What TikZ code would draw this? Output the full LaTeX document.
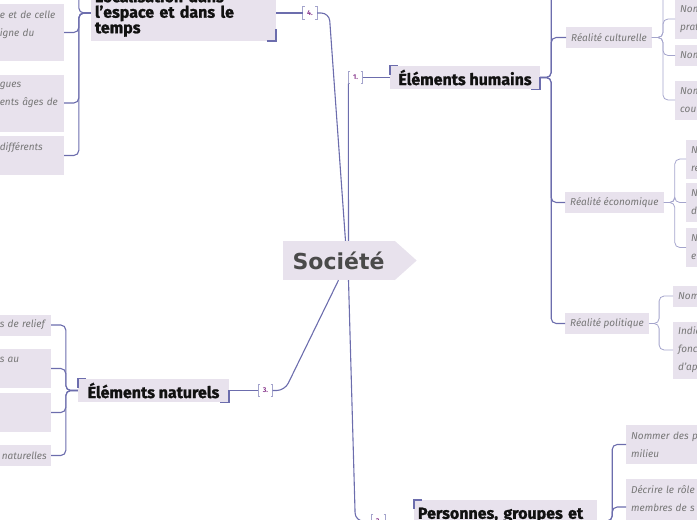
\documentclass[tikz,border=0pt]{standalone}
\usepackage{fontspec}
\setmainfont{Fira Sans}
\newfontfamily\hubfont{DejaVu Sans}
\newfontfamily\topicfont{Fira Sans}[BoldFeatures={FakeBold=1.2}]
\usetikzlibrary{
  calc,
  positioning
}
\hyphenpenalty=10000
\exhyphenpenalty=10000
\definecolor{ink}{HTML}{111111}
\definecolor{paper}{HTML}{E8E2ED}
\definecolor{trunk}{HTML}{6C6DAD}
\definecolor{twig}{HTML}{A4A4CC}
\definecolor{note}{HTML}{777777}
\definecolor{plum}{HTML}{8B3D8F}
\definecolor{hubink}{HTML}{4A4A4A}
\newcommand{\cornermarks}[1]{%
  \draw[cornerline] ([yshift=-9pt]#1.north west) -- (#1.north west) --
    ([xshift=8pt]#1.north west);
  \draw[cornerline] ([yshift=12pt]#1.south east) -- (#1.south east) --
    ([xshift=-9pt]#1.south east);
}
\newcommand{\tagmarks}[1]{%
  \draw[tagline] ([xshift=2pt]#1.north west) -- (#1.north west) --
    (#1.south west) -- ([xshift=2pt]#1.south west);
  \draw[tagline] ([xshift=-2pt]#1.north east) -- (#1.north east) --
    (#1.south east) -- ([xshift=-2pt]#1.south east);
}
\tikzset{
  hub/.style={
    fill=paper,
    text=hubink,
    font=\hubfont\bfseries\fontsize{22}{24}\selectfont,
    minimum width=112pt,
    minimum height=39pt,
    inner sep=0pt
  },
  topic/.style={
    fill=paper,
    text=ink,
    font=\topicfont\bfseries\fontsize{16}{15.5}\selectfont,
    inner xsep=4pt,
    inner ysep=4pt,
    align=left
  },
  facet/.style={
    fill=paper,
    text=note,
    font=\itshape\fontsize{10}{18}\selectfont,
    inner xsep=5pt,
    inner ysep=5pt,
    minimum height=21pt
  },
  leaf/.style={
    facet,
    align=left,
    text width=#1
  },
  leaf/.default=110pt,
  numtag/.style={
    font=\bfseries\fontsize{7}{7}\selectfont,
    text=plum,
    minimum width=14pt,
    minimum height=12pt,
    inner sep=0pt
  },
  branch/.style={
    draw=trunk,
    line width=1.1pt,
    rounded corners=5pt
  },
  twigline/.style={
    draw=twig,
    line width=0.8pt,
    rounded corners=5pt
  },
  cornerline/.style={
    draw=trunk,
    line width=1.6pt
  },
  tagline/.style={
    draw=twig,
    line width=0.7pt
  }
}
\begin{document}
\begin{tikzpicture}[x=1pt, y=-1pt]
  \useasboundingbox (0,0) rectangle (697,520);
  \clip (0,0) rectangle (697,520);

  % Centre.
  \node[hub] (soc) at (338.5,260.5) {Société};
  \fill[paper] (soc.north east) -- ($(soc.east)+(22,0)$) --
    (soc.south east) -- cycle;

  % Number tags.
  \node[numtag] (b4) at (310,13) {4.};
  \node[numtag] (b1) at (355.5,77.5) {1.};
  \node[numtag] (b3) at (265.5,390.5) {3.};
  \node[numtag] (b2) at (378.5,521) {2.};
  \foreach \t in {b1,b2,b3,b4} {\tagmarks{\t}}

  % Main topics.
  \node[topic, minimum width=150pt, minimum height=22pt] (hum)
    at (465,77.5) {Éléments humains};
  \node[topic, text width=177pt] (loc) at (183.5,13)
    {Localisation dans\\l’espace et dans le\\temps};
  \node[topic, minimum width=151pt, minimum height=22pt] (nat)
    at (153.5,390.5) {Éléments naturels};
  \node[topic, text width=175pt, minimum height=42pt] (per)
    at (505.5,521) {Personnes, groupes et\\\mbox{}};
  \foreach \t in {hum,loc,nat,per} {\cornermarks{\t}}

  % Realities of the human side.
  \node[facet, anchor=west] (cul) at (566,37.5) {Réalité culturelle};
  \node[facet, anchor=west] (eco) at (565,202.5) {Réalité économique};
  \node[facet, anchor=west] (pol) at (565,323.5) {Réalité politique};

  \node[leaf, anchor=west, minimum height=39pt] (c1) at (675,19) {Nom\\prat};
  \node[leaf, anchor=west] (c2) at (675,55.5) {Nom};
  \node[leaf, anchor=west, minimum height=39pt] (c3) at (675,100) {Nom\\cou};
  \node[leaf, anchor=west, minimum height=39pt] (e1) at (686,159) {N\\re};
  \node[leaf, anchor=west, minimum height=39pt] (e2) at (686,202.5) {N\\d};
  \node[leaf, anchor=west, minimum height=39pt] (e3) at (686,247.5) {N\\e};
  \node[leaf, anchor=west] (p1) at (673,296) {Nom};
  \node[leaf, anchor=west, minimum height=57pt] (p2) at (673,350)
    {Indiq\\fonc\\d’app};

  % Leaves of the other topics.
  \node[leaf=59pt, anchor=east, minimum height=57pt] (l4a) at (64,32.5)
    {e et de celle\\igne du\\\mbox{}};
  \node[leaf=59pt, anchor=east, minimum height=57pt] (l4b) at (64,103)
    {gues\\ents âges de\\\mbox{}};
  \node[leaf=59pt, anchor=east, minimum height=39pt] (l4c) at (64,155.5)
    {différents\\\mbox{}};
  \node[leaf=46pt, anchor=east] (l3a) at (51,325) {s de relief};
  \node[leaf=46pt, anchor=east, minimum height=39pt] (l3b) at (51,368.5)
    {s au\\\mbox{}};
  \node[leaf=46pt, anchor=east, minimum height=39pt] (l3c) at (51,412.5)
    {\mbox{}\\\mbox{}};
  \node[leaf=46pt, anchor=east] (l3d) at (51,455.5)
    {\mbox{\hspace{2pt}naturelles}};
  \node[leaf, anchor=west, minimum height=39pt] (r1) at (626,444.5)
    {Nommer des p\\milieu};
  \node[leaf, anchor=west, minimum height=57pt] (r2) at (626,507)
    {Décrire le rôle\\membres de s\\\mbox{}};

  % Free ends of branches leaving the frame.
  \coordinate (humtop) at (566,-30);
  \coordinate (cultop) at (675,-30);
  \coordinate (loctop) at (60,-30);

  % From the centre to the tags.
  \draw[branch, rounded corners=8pt] ([xshift=7pt]soc.north) --
    ($(b4.east)+(12,0)$) -- (b4.east);
  \draw[branch] ([xshift=10pt]soc.north) -- (b1.south west);
  \draw[branch, rounded corners=8pt] (soc.south) --
    ($(b3.east)+(12,0)$) -- (b3.east);
  \draw[branch, rounded corners=8pt] ([xshift=10pt]soc.south) --
    ($(b2.west)+(-16,0)$) -- (b2.west);

  % From the tags to the topics.
  \draw[branch] (b1.east) -- (hum.west);
  \draw[branch] (loc.east) -- (b4.west);
  \draw[branch] (nat.east) -- (b3.west);
  \draw[branch] (b2.east) -- (per.west);

  % Topic branches.
  \foreach \kid in {cul,eco,pol,humtop}
    \draw[branch] (hum.east) -- ++(11,0) |- (\kid.west);
  \foreach \kid in {l4a,l4b,l4c,loctop}
    \draw[branch] (loc.west) -- ++(-12,0) |- (\kid.east);
  \foreach \kid in {l3a,l3b,l3c,l3d}
    \draw[branch] (nat.west) -- ++(-12,0) |- (\kid.east);
  \foreach \kid in {r1,r2}
    \draw[branch] (per.east) -- ++(15,0) |- (\kid.west);

  % Reality branches.
  \foreach \kid in {c1,c2,c3,cultop}
    \draw[twigline] (cul.east) -- ++(11,0) |- (\kid.west);
  \foreach \kid in {e1,e2,e3}
    \draw[twigline] (eco.east) -- ++(11,0) |- (\kid.west);
  \foreach \kid in {p1,p2}
    \draw[twigline] (pol.east) -- ++(10,0) |- (\kid.west);
\end{tikzpicture}
\end{document}
